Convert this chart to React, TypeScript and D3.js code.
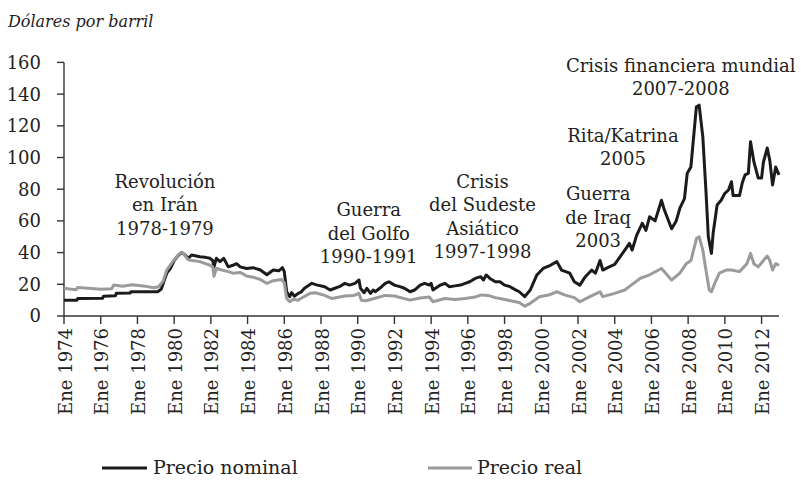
import React from "react";
import * as d3 from "d3";

const nominalYears = [1974.0,1974.7,1974.75,1976.1,1976.15,1976.8,1976.85,1977.6,1977.65,1979.1,1979.3,1979.45,1979.6,1979.8,1980.0,1980.2,1980.4,1980.55,1980.77,1980.95,1981.4,1981.7,1981.95,1982.1,1982.17,1982.3,1982.5,1982.7,1982.95,1983.2,1983.4,1983.6,1983.95,1984.3,1984.7,1985.05,1985.4,1985.7,1985.9,1986.0,1986.13,1986.3,1986.4,1986.55,1986.76,1986.9,1987.1,1987.5,1987.8,1988.2,1988.5,1988.75,1989.0,1989.3,1989.55,1989.85,1990.07,1990.15,1990.35,1990.5,1990.7,1990.85,1990.95,1991.2,1991.5,1991.7,1992.0,1992.3,1992.55,1992.85,1993.1,1993.4,1993.65,1993.9,1994.0,1994.1,1994.5,1994.75,1995.0,1995.3,1995.6,1995.85,1996.1,1996.4,1996.7,1996.85,1997.0,1997.2,1997.5,1997.75,1998.0,1998.3,1998.55,1998.8,1999.1,1999.4,1999.76,2000.1,2000.5,2000.85,2001.1,2001.55,2001.8,2002.1,2002.4,2002.75,2002.95,2003.2,2003.35,2003.7,2004.0,2004.3,2004.55,2004.8,2004.95,2005.2,2005.5,2005.7,2005.9,2006.2,2006.55,2006.7,2007.1,2007.35,2007.55,2007.8,2007.95,2008.15,2008.3,2008.45,2008.6,2008.8,2008.97,2009.1,2009.27,2009.36,2009.58,2009.8,2010.0,2010.2,2010.36,2010.45,2010.8,2010.95,2011.1,2011.28,2011.4,2011.58,2011.82,2012.0,2012.1,2012.31,2012.45,2012.6,2012.77,2012.95];
const nominalValues = [10,10,11,11.2,12.4,12.8,14.3,14.5,15.3,15.3,17,22,27,30,35,38,40,39,36.4,38.5,37.4,37,36.4,35,31,36.4,34.3,36.4,31,32,33,31,30,30.5,29,26,29,28.5,30.5,28,15.3,12.2,14.8,12.5,14.3,15,17.5,20.6,19.5,18.5,16.4,17.5,18.5,20.6,19.5,20.6,22.7,17.5,14.7,17.5,14.3,16.4,15.3,17.5,20.6,21.6,19.5,18.5,17.5,15.3,16.4,19.5,20.6,19.5,20.6,16.4,19.5,20.6,18.5,19,19.5,20.6,21.6,23.7,24.8,22.7,25.9,23.7,21.6,21.6,19.5,18.5,16.8,15.3,12.2,16.4,25.9,30,32,34.3,29,27,21.6,19.5,24.8,29,27,35,29,31,32.5,37.4,41.6,45.8,41.6,51,58.5,54,62.6,60,73,67,55,60,68,74,90,94,113,132,133,113,79,50,39.5,52,70,73,77.4,79.5,84.7,76,76,84,89,90,110,97.4,87,87,97,106,98,82.6,94,89];

const realYears = [1974.0,1974.3,1974.65,1974.75,1975.5,1976.0,1976.6,1976.7,1977.2,1977.7,1978.3,1978.9,1979.15,1979.4,1979.6,1979.9,1980.3,1980.45,1980.77,1981.0,1981.4,1981.95,1982.1,1982.17,1982.3,1982.6,1982.95,1983.2,1983.6,1983.95,1984.3,1984.7,1985.05,1985.4,1985.85,1986.0,1986.13,1986.3,1986.5,1986.76,1986.9,1987.4,1987.7,1988.2,1988.6,1989.3,1989.8,1990.07,1990.2,1990.45,1990.9,1991.5,1992.0,1992.85,1993.4,1993.9,1994.1,1994.75,1995.3,1995.85,1996.4,1996.75,1997.1,1997.5,1998.0,1998.6,1998.8,1999.1,1999.4,1999.9,2000.4,2000.85,2001.3,2001.8,2002.1,2002.65,2003.2,2003.35,2004.0,2004.55,2004.9,2005.4,2005.9,2006.55,2007.1,2007.55,2007.9,2008.15,2008.46,2008.6,2008.8,2008.97,2009.15,2009.27,2009.45,2009.7,2010.07,2010.36,2010.8,2011.2,2011.4,2011.58,2011.82,2012.1,2012.31,2012.45,2012.6,2012.77,2012.95];
const realValues = [17.5,17,16.6,18,17.3,16.9,17.2,19.5,18.8,19.7,19,17.8,18.5,22,29,34,39.5,40,35.5,35,34.3,32,31,25,30,29,28,27,27.5,25.2,24.5,23,20.6,22.3,23,21,11,9,10.5,10,11,14.3,14.7,13,11,12.6,13,14.3,10,9.6,11,13,12.6,10,11.4,12,9,11,10.4,11,12,13.3,13,11.6,10.4,9,8.5,6.2,8,12.2,13.2,15.3,13.2,11.6,9,12.2,15.3,12.2,14.3,16.4,19.5,23.8,26,30,22.7,27,33,35,49,50,41.6,29,16.4,15.3,20.6,27,29,29,28,33,39.5,33,31,35,37.8,35,29,33,32];

const yTicks = [0, 20, 40, 60, 80, 100, 120, 140, 160];
const xTickYears = [1974,1976,1978,1980,1982,1984,1986,1988,1990,1992,1994,1996,1998,2000,2002,2004,2006,2008,2010,2012];
const monthLabel = "Ene";
const yTitle = "Dólares por barril";
const seriesNames = ["Precio nominal", "Precio real"];

const annotations = [
  { lines: ["Revolución", "en Irán", "1978-1979"], year: 1979.5, top: 81 },
  { lines: ["Guerra", "del Golfo", "1990-1991"], year: 1990.6, top: 63 },
  { lines: ["Crisis", "del Sudeste", "Asiático", "1997-1998"], year: 1996.8, top: 81 },
  { lines: ["Guerra", "de Iraq", "2003"], year: 2003.1, top: 73 },
  { lines: ["Rita/Katrina", "2005"], year: 2004.45, top: 110 },
  { lines: ["Crisis financiera mundial", "2007-2008"], year: 2007.6, top: 154 },
];

const FONT = "'DejaVu Serif', serif";

export default function App() {
  const W = 801, H = 485;
  const x = d3.scaleLinear().domain([1974, 2012.95]).range([64, 779]);
  const y = d3.scaleLinear().domain([0, 160]).range([316, 62.4]);
  const line = d3.line<[number, number]>().x(d => x(d[0])).y(d => y(d[1])).curve(d3.curveLinear);
  const nominal = nominalYears.map((t, i) => [t, nominalValues[i]] as [number, number]);
  const real = realYears.map((t, i) => [t, realValues[i]] as [number, number]);
  const axisColor = "#333";
  const lh = 23.5;
  return (
    <svg width={W} height={H} style={{ position: "absolute", left: 0, top: 0, background: "#fff" }} fontFamily={FONT}>
      <text x={8} y={27} fontSize={16} fontStyle="italic" fill="#222">{yTitle}</text>
      {/* y axis */}
      <line x1={x(1974)} x2={x(1974)} y1={y(160)} y2={y(0)} stroke={axisColor} strokeWidth={1.4} />
      {yTicks.map(v => (
        <g key={v}>
          <line x1={x(1974) - 7} x2={x(1974)} y1={y(v)} y2={y(v)} stroke={axisColor} strokeWidth={1.4} />
          <text x={41} y={y(v)} dy="0.36em" textAnchor="end" fontSize={18} fill="#222">{v}</text>
        </g>
      ))}
      {/* x axis */}
      <line x1={x(1974)} x2={x(2012.95)} y1={y(0)} y2={y(0)} stroke={axisColor} strokeWidth={1.4} />
      {xTickYears.map(t => (
        <g key={t} transform={`translate(${x(t)},${y(0)})`}>
          <line y1={0} y2={8} stroke={axisColor} strokeWidth={1.4} />
          <text transform="rotate(-90)" x={-12} y={0} dy="0.42em" textAnchor="end" fontSize={18} fill="#222">{`${monthLabel} ${t}`}</text>
        </g>
      ))}
      {/* lines */}
      <path d={line(nominal) || ""} fill="none" stroke="#1c1a1b" strokeWidth={3} strokeLinejoin="round" />
      <path d={line(real) || ""} fill="none" stroke="#9b9b9b" strokeWidth={3} strokeLinejoin="round" />
      {/* annotations */}
      {annotations.map((a, i) => (
        <text key={i} textAnchor="middle" fontSize={18} fill="#222">
          {a.lines.map((l, j) => (
            <tspan key={j} x={x(a.year)} y={y(a.top) + j * lh}>{l}</tspan>
          ))}
        </text>
      ))}
      {/* legend */}
      <line x1={102} x2={147} y1={468} y2={468} stroke="#1c1a1b" strokeWidth={3} />
      <text x={153} y={474} fontSize={19} fill="#222">{seriesNames[0]}</text>
      <line x1={428} x2={472} y1={468} y2={468} stroke="#9b9b9b" strokeWidth={3} />
      <text x={477} y={474} fontSize={19} fill="#222">{seriesNames[1]}</text>
    </svg>
  );
}
